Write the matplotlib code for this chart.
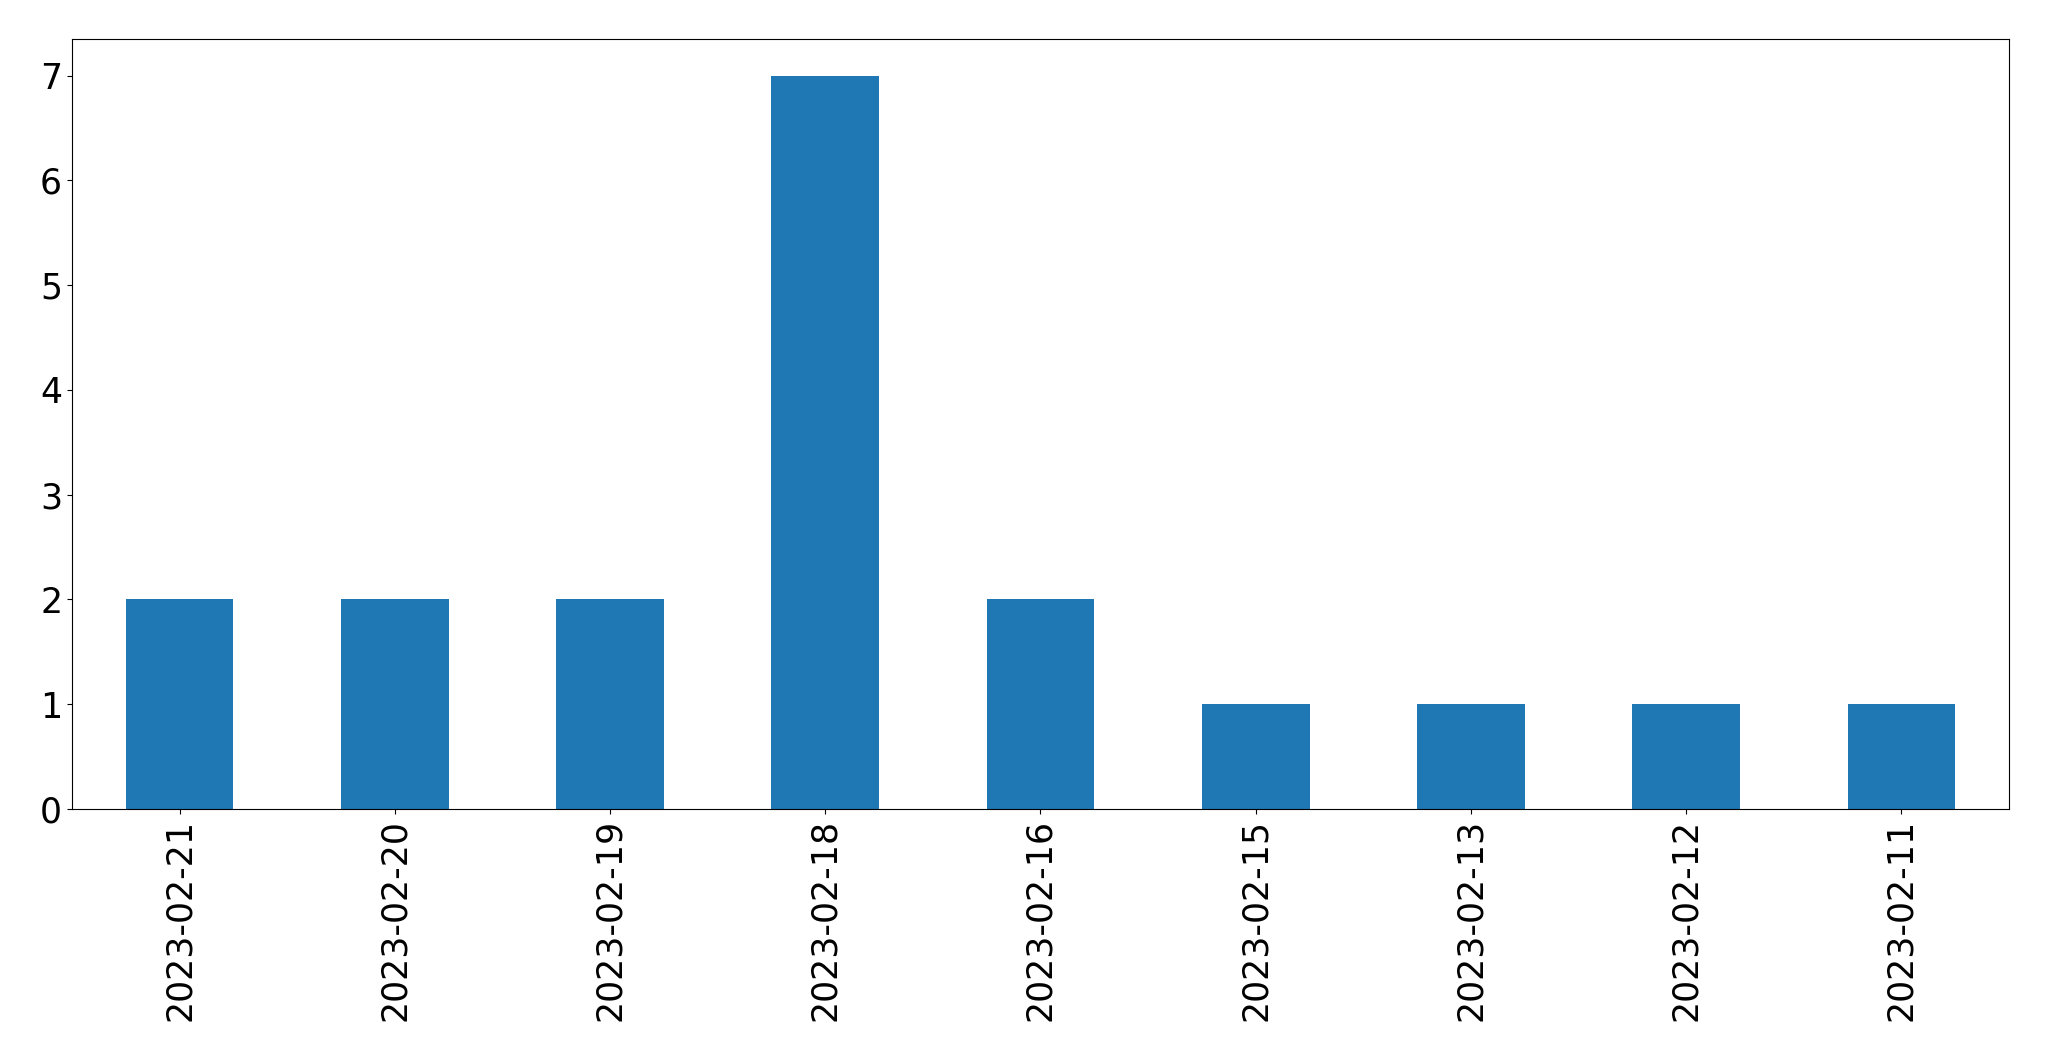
import matplotlib
matplotlib.use("Agg")
import matplotlib.pyplot as plt

dates = ["2023-02-21", "2023-02-20", "2023-02-19", "2023-02-18", "2023-02-16",
         "2023-02-15", "2023-02-13", "2023-02-12", "2023-02-11"]
counts = [2, 2, 2, 7, 2, 1, 1, 1, 1]

fig = plt.figure(figsize=(20.49, 10.61), dpi=100)
ax = fig.add_axes([0.0351, 0.2375, 0.9454, 0.7257])
x = range(len(dates))
ax.bar(x, counts, width=0.5, color="#1f77b4")
ax.set_xlim(-0.5, len(dates) - 0.5)
ax.set_ylim(0, 7.35)
ax.set_xticks(list(x))
ax.set_xticklabels(dates, rotation=90, fontsize=25)
ax.tick_params(axis="y", labelsize=25)
fig.savefig("out.png", dpi=100)
